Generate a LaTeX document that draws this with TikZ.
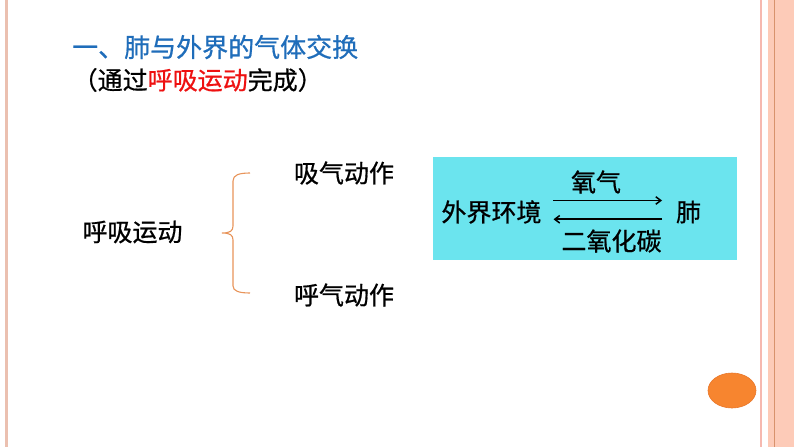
\documentclass[tikz,border=0pt]{standalone}
\usepackage{fontspec}
\setmainfont{Noto Sans CJK SC}
\newfontfamily\mfont{Noto Sans CJK SC}[FakeBold=0.7]
\usetikzlibrary{arrows.meta,shapes.geometric}
\definecolor{titleblue}{HTML}{1F6DBA}
\definecolor{redtxt}{HTML}{EE1111}
\definecolor{boxcyan}{HTML}{6BE4EE}
\definecolor{bracecol}{HTML}{E8945A}
\definecolor{ovalcol}{HTML}{F7852F}
\definecolor{ovaledge}{HTML}{E9772A}
\definecolor{bandfill}{HTML}{FDCBB8}
\definecolor{bandline}{HTML}{D8926C}
\definecolor{pinkline}{HTML}{F6B9B0}
\definecolor{leftline}{HTML}{EBC0B0}
\begin{document}
\begin{tikzpicture}[x=1pt,y=-1pt,
  txt/.style={inner sep=0pt, font=\mfont\fontsize{25}{30}\selectfont},
  ttl/.style={inner sep=0pt, font=\mfont\fontsize{26}{31}\selectfont, text=titleblue},
  flow/.style={line width=1.7pt, -{Straight Barb[length=5pt,width=7.5pt,line width=1.5pt]}},
  brace/.style={draw=bracecol, line width=1.1pt}]
\useasboundingbox (0,0) rectangle (794,447);
\fill[white] (0,0) rectangle (794,447);
% borders
\fill[bandfill] (768,0) rectangle (794,447);
\draw[bandline, line width=1.3pt] (774.3,0) -- (774.3,447);
\draw[pinkline, line width=2pt] (760.8,0) -- (760.8,447);
\draw[leftline, line width=2.4pt] (6.3,0) -- (6.3,447);
% title
\node[ttl, anchor=west] (title) at (72,47) {一、肺与外界的气体交换};
\node[txt, anchor=west] (subtitle) at (72.5,80) {（通过\textcolor{redtxt}{呼吸运动}完成）};
% left part
\node[txt] (main) at (132.5,232) {呼吸运动};
\node[txt] (inhale) at (344,173) {吸气动作};
\node[txt] (exhale) at (344,295) {呼气动作};
\draw[brace] (250,173) .. controls (239,173) and (233,175) .. (233,181) -- (233,226)
  .. controls (233,231) and (230,233) .. (222,233)
  .. controls (230,233) and (233,235) .. (233,240) -- (233,286)
  .. controls (233,291) and (239,293) .. (250,293);
% box
\node[fill=boxcyan, minimum width=304pt, minimum height=103pt, inner sep=0pt] (box) at (585,208.5) {};
\node[txt] (env) at (491.5,212) {外界环境};
\node[txt] (lung) at (688.5,212) {肺};
\node[txt] (o2) at (596,182) {氧气};
\node[txt] (co2) at (611.5,241) {二氧化碳};
\coordinate (a1s) at (553,200.5);
\coordinate (a1e) at (662,200.5);
\coordinate (a2s) at (662,219.3);
\coordinate (a2e) at (553.5,219.3);
\draw[flow] (a1s) -- (a1e);
\draw[flow] (a2s) -- (a2e);
% oval
\node[ellipse, fill=ovalcol, draw=ovaledge, line width=0.6pt, minimum width=48pt, minimum height=35pt, inner sep=0pt] (oval) at (732,390.5) {};
\end{tikzpicture}
\end{document}
